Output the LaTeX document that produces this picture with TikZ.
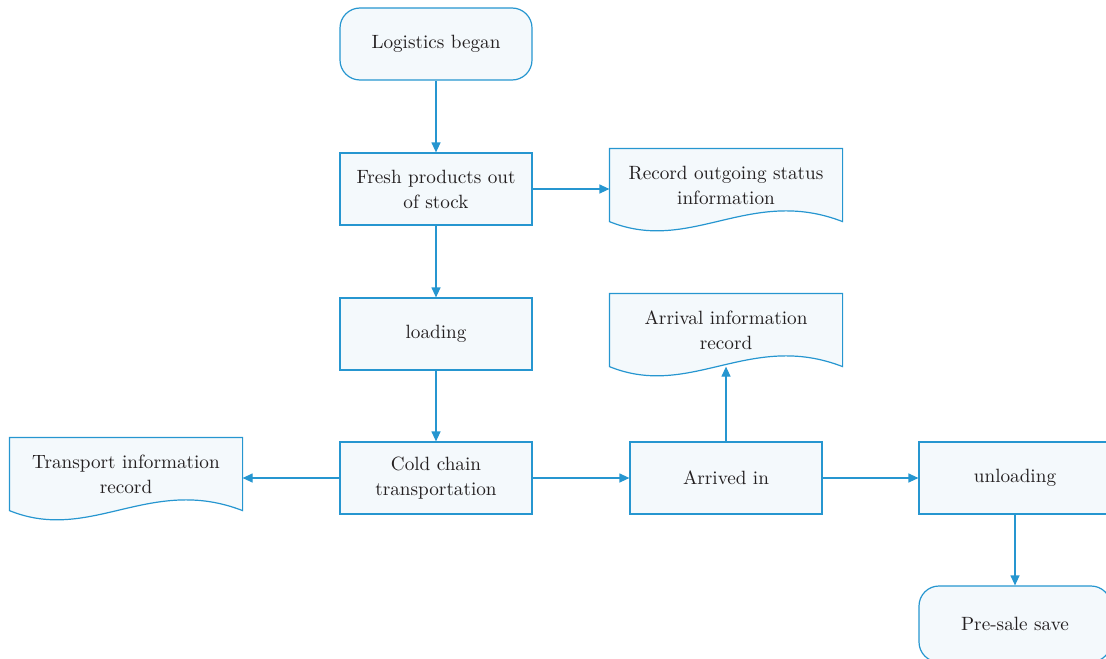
\documentclass[tikz,border=0pt]{standalone}
\usepackage{tikz}
\usetikzlibrary{arrows.meta,backgrounds}
\definecolor{flowblue}{RGB}{38,150,208}
\definecolor{flowfill}{RGB}{244,249,252}
\definecolor{flowtext}{RGB}{35,31,32}
\tikzset{
  base/.style={draw=flowblue, line width=0.6pt, fill=flowfill, text=flowtext, align=center,
    minimum width=96pt, minimum height=36pt, inner sep=2pt,
    font=\fontsize{9.6}{12.5}\selectfont},
  startbox/.style={base, rounded corners=10pt},
  procbox/.style={base},
  recbox/.style={base, draw=none, fill=none, minimum width=116pt},
  flow/.style={draw=flowblue, line width=0.6pt, -{Triangle[length=5pt,width=4.5pt]}},
}

\begin{document}
\begin{tikzpicture}[x=0.5pt, y=-0.5pt]
    \useasboundingbox (0,0) rectangle (1106,658);
    % main chain
    \node[startbox] (begin) at (436,44) {Logistics began};
    \node[procbox] (fresh) at (436,189) {Fresh products out\\of stock};
    \node[procbox] (load) at (436,334) {loading};
    \node[procbox] (cold) at (436,478) {Cold chain\\transportation};
    \node[procbox] (arrived) at (726,478) {Arrived in};
    \node[procbox] (unload) at (1015,478) {unloading};
    \node[startbox, minimum height=38pt] (presale) at (1015,624) {Pre-sale save};
    % records
    \node[recbox] (outrec) at (726,185) {Record outgoing status\\information};
    \node[recbox] (arrrec) at (726,330) {Arrival information\\record};
    \node[recbox] (tranrec) at (126,474) {Transport information\\record};
    \begin{scope}[on background layer]
        \foreach \n in {outrec, arrrec, tranrec} {
            \draw[draw=flowblue, line width=0.6pt, fill=flowfill]
                (\n.south west) -- (\n.north west) -- (\n.north east) -- (\n.south east)
                .. controls ([xshift=-46.4pt,yshift=18pt]\n.south east)
                and ([xshift=40.6pt,yshift=-16.5pt]\n.south west) .. (\n.south west) -- cycle;
        }
    \end{scope}
    % connectors
    \draw[flow] (begin) -- (fresh);
    \draw[flow] (fresh) -- (load);
    \draw[flow] (load) -- (cold);
    \draw[flow] (cold) -- (arrived);
    \draw[flow] (arrived) -- (unload);
    \draw[flow] (unload) -- (presale);
    \draw[flow] (fresh.east) -- (fresh.east -| outrec.west);
    \draw[flow] (cold.west) -- (cold.west -| tranrec.east);
    \draw[flow] (arrived.north) -- (arrived.north |- arrrec.south);
\end{tikzpicture}
\end{document}
